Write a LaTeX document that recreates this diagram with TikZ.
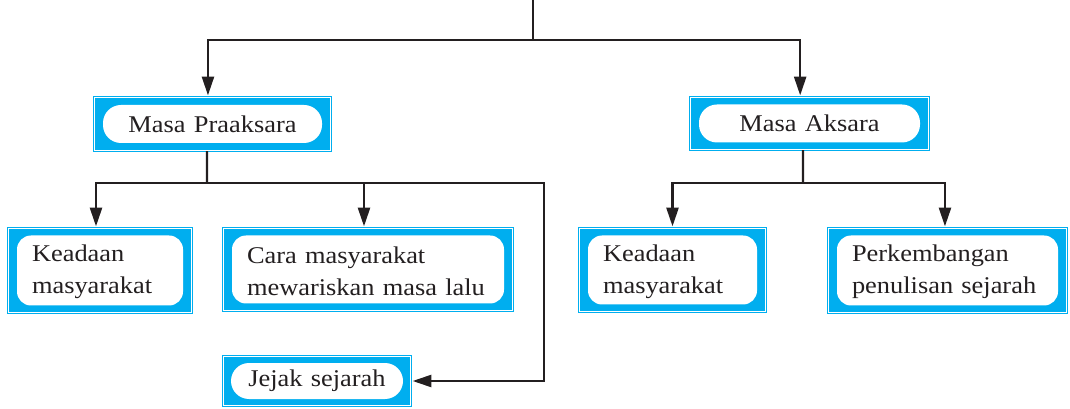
\documentclass[tikz,border=0pt]{standalone}
\usepackage{fontspec}
\setmainfont{Liberation Serif}[FakeStretch=1.1, WordSpace=1.25]
\usetikzlibrary{arrows.meta,calc}
\definecolor{bl}{HTML}{00AEEF}
\definecolor{ink}{HTML}{231F20}
\begin{document}
\begin{tikzpicture}[x=0.75pt,y=-0.75pt,
  frame/.style 2 args={rectangle, draw=bl, fill=bl, double=white, double distance=0.8pt, line width=0.75pt,
    minimum width=#1*0.75pt-2.2pt, minimum height=#2*0.75pt-2.2pt, inner sep=0pt},
  pill/.style 2 args={rectangle, fill=white, rounded corners=13.5pt, minimum width=#1*0.75pt,
    minimum height=#2*0.75pt, inner sep=0pt, font=\fontsize{18}{24}\selectfont, text=ink},
  card/.style 2 args={rectangle, fill=white, rounded corners=10.5pt, minimum width=#1*0.75pt,
    minimum height=#2*0.75pt, inner sep=0pt},
  lbl/.style={anchor=west, align=left, inner sep=0pt, text=ink, font=\fontsize{18}{24}\selectfont},
  ln/.style={draw=ink, line width=1.7pt},
  arr/.style={draw=ink, line width=1.7pt, -{Triangle[length=14pt,width=9pt]}, shorten >=1.2pt}]
\useasboundingbox (0,0) rectangle (1070,409);

% frames
\node[frame={239}{56}] (PA) at (212.5,124) {};
\node[frame={241}{55}] (MA) at (809.5,123.5) {};
\node[frame={186}{87}] (K1) at (100,270.5) {};
\node[frame={292}{85}] (CM) at (368,269.5) {};
\node[frame={189}{86}] (K2) at (672.5,270) {};
\node[frame={241}{87}] (PS) at (947.5,270.5) {};
\node[frame={190}{52}] (JS) at (317,381) {};

% white inner shapes with text
\node[pill={219}{38}] (PAw) at (PA.center) {Masa Praaksara};
\node[pill={221}{38}] (MAw) at (MA.center) {Masa Aksara};
\node[pill={172}{36}] (JSw) at (JS.center) {Jejak sejarah};
\node[card={166}{70}] (K1w) at (K1.center) {};
\node[card={272}{68}] (CMw) at (CM.center) {};
\node[card={169}{69}] (K2w) at (K2.center) {};
\node[card={221}{70}] (PSw) at (PS.center) {};
\node[lbl] (K1t) at ([xshift=11.25pt,yshift=-1pt]K1w.west) {Keadaan\\masyarakat};
\node[lbl] (CMt) at ([xshift=11.25pt,yshift=-1pt]CMw.west) {Cara masyarakat\\mewariskan masa lalu};
\node[lbl] (K2t) at ([xshift=11.25pt,yshift=-1pt]K2w.west) {Keadaan\\masyarakat};
\node[lbl] (PSt) at ([xshift=11.25pt,yshift=-1pt]PSw.west) {Perkembangan\\penulisan sejarah};

% connectors
\coordinate (top) at (533,0);
\coordinate (hub1) at (533,40);
\coordinate (hub2) at (207,183);
\coordinate (c3) at (544,183);
\coordinate (hub3) at (803,183);
\draw[ln] (top) -- (hub1);
\draw[arr] (hub1) -| ([xshift=-3.4pt]PA.north);
\draw[arr] (hub1) -| ([xshift=-7pt]MA.north);
\draw[ln] ([xshift=-4.1pt]PA.south) -- (hub2);
\draw[arr] (hub2) -| ([xshift=-3pt]K1.north);
\draw[arr] (hub2) -| ([xshift=-3pt]CM.north);
\draw[arr] (hub2) -- (c3) |- (JS.east);
\draw[ln] ([xshift=-4.9pt]MA.south) -- (hub3);
\draw[arr] (hub3) -| (K2.north);
\draw[arr] (hub3) -| ([xshift=-1.9pt]PS.north);
\end{tikzpicture}
\end{document}
